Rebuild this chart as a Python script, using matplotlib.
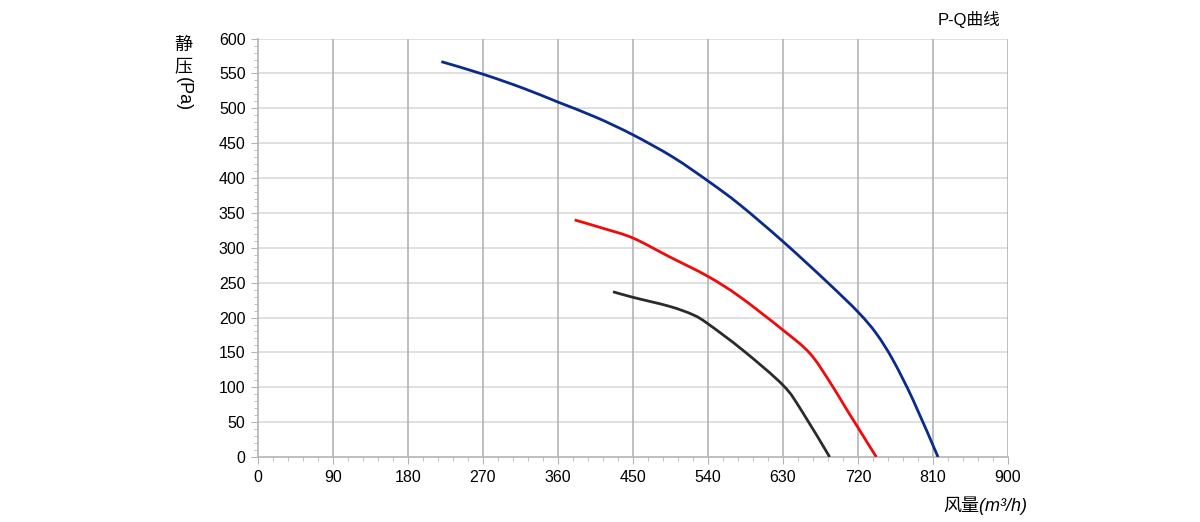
import matplotlib
matplotlib.use("Agg")
import matplotlib.pyplot as plt
import numpy as np
from matplotlib.path import Path
from matplotlib.patches import PathPatch
from matplotlib.ticker import MultipleLocator

plt.rcParams['font.family'] = ['Liberation Sans', 'Noto Sans CJK SC', 'DejaVu Sans']

# curves (air flow m3/h, static pressure Pa)
blue_q = [220, 270, 318, 360, 406, 450, 498, 541, 578, 630, 682, 720, 742, 762, 786, 816]
blue_p = [567, 549, 529, 509, 487, 462, 430, 395, 362, 309, 252, 208, 177, 139, 82, 0]
red_q = [380, 414, 450, 494, 540, 578, 630, 662, 686, 706, 742]
red_p = [340, 328, 314, 287, 259, 230, 182, 149, 108, 69, 0]
black_q = [426, 450, 494, 522, 540, 582, 630, 652, 686]
black_p = [237, 229, 216, 204, 191, 153, 103, 67, 0]

xticks = list(range(0, 901, 90))
yticks = list(range(0, 601, 50))


def smooth_line(ax, q, p, color):
    # spreadsheet style smoothed line: bezier segments through every point
    pts = np.column_stack([q, p]).astype(float)
    verts = [pts[0]]
    codes = [Path.MOVETO]
    n = len(pts)
    for i in range(n - 1):
        p0 = pts[max(i - 1, 0)]
        p1 = pts[i]
        p2 = pts[i + 1]
        p3 = pts[min(i + 2, n - 1)]
        verts += [p1 + (p2 - p0) / 6, p2 - (p3 - p1) / 6, p2]
        codes += [Path.CURVE4] * 3
    patch = PathPatch(Path(verts, codes), facecolor='none', edgecolor=color,
                      lw=2, zorder=3, capstyle='butt')
    ax.add_patch(patch)


fig = plt.figure(figsize=(12, 5.22), dpi=100)
ax = fig.add_axes([0.215, 0.1245, 0.625, 0.8015])

ax.set_xlim(0, 900)
ax.set_ylim(0, 600)
ax.set_xticks(xticks)
ax.set_yticks(yticks)
ax.xaxis.set_minor_locator(MultipleLocator(18))
ax.yaxis.set_minor_locator(MultipleLocator(10))

for x in xticks[1:]:
    ax.axvline(x, color='#b4b4b4', lw=1.2, zorder=1)
for y in yticks[1:]:
    ax.axhline(y, color='#dadada', lw=1.2, zorder=0)

smooth_line(ax, blue_q, blue_p, '#0a2a8c')
smooth_line(ax, red_q, red_p, '#f00a0a')
smooth_line(ax, black_q, black_p, '#2b2b2b')

for s in ['top', 'right']:
    ax.spines[s].set_visible(False)
for s in ['left', 'bottom']:
    ax.spines[s].set_color('#b4b4b4')
    ax.spines[s].set_linewidth(1.2)

ax.tick_params(which='major', length=5, color='#b4b4b4', labelsize=11.5, pad=4)
ax.tick_params(which='minor', length=3, color='#b4b4b4')

# y label: CJK upright, (Pa) turned clockwise
fig.text(183 / 1200, 1 - 45 / 522, '静', fontsize=13, ha='center', va='center')
fig.text(183 / 1200, 1 - 67 / 522, '压', fontsize=13, ha='center', va='center')
fig.text(183 / 1200, 1 - 94 / 522, '(Pa)', fontsize=13, rotation=-90, ha='center', va='center')

fig.text(1027 / 1200, 1 - 506 / 522, '风量(m³/h)', fontsize=13, style='italic',
         family=['Liberation Sans', 'Noto Sans CJK SC'], ha='right', va='center')
fig.text(1000 / 1200, 1 - 20 / 522, 'P-Q曲线', fontsize=12, ha='right', va='center')

fig.savefig('out.png', dpi=100)
